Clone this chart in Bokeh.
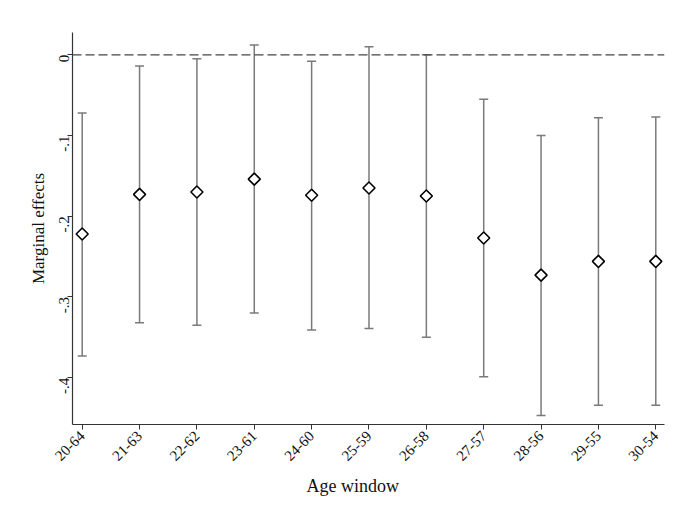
import math
from bokeh.plotting import figure
from bokeh.models import (ColumnDataSource, FixedTicker, CustomJSTickFormatter,
                          Span, Whisker, TeeHead, Range1d, Title)
from bokeh.embed import file_html
from bokeh.resources import INLINE

windows = ["20-64", "21-63", "22-62", "23-61", "24-60", "25-59",
           "26-58", "27-57", "28-56", "29-55", "30-54"]
estimate = [-0.222, -0.173, -0.170, -0.154, -0.174, -0.165,
            -0.175, -0.227, -0.273, -0.256, -0.256]
ci_upper = [-0.072, -0.014, -0.005, 0.012, -0.008, 0.010,
            0.000, -0.055, -0.100, -0.078, -0.077]
ci_lower = [-0.373, -0.332, -0.335, -0.320, -0.341, -0.339,
            -0.350, -0.399, -0.447, -0.434, -0.434]
y_ticks = [0, -0.1, -0.2, -0.3, -0.4]
reference = 0

xs = list(range(len(windows)))
src = ColumnDataSource(dict(x=xs, est=estimate, lo=ci_lower, hi=ci_upper))

FONT = "Liberation Serif"

p = figure(width=690, height=505, output_backend="svg", toolbar_location=None,
           x_range=Range1d(-0.169, 10.152), y_range=Range1d(-0.458, 0.0276),
           min_border_left=72, min_border_right=26, min_border_top=32,
           min_border_bottom=81)
p.outline_line_color = None
p.xgrid.grid_line_color = None
p.ygrid.grid_line_color = None

p.add_layout(Span(location=reference, dimension="width", line_color="#444444",
                  line_width=1.2, line_dash="9 4"))

whisk = Whisker(source=src, base="x", upper="hi", lower="lo",
                line_color="#7a7a7a", line_width=1.5,
                upper_head=TeeHead(size=9, line_color="#7a7a7a", line_width=1.5),
                lower_head=TeeHead(size=9, line_color="#7a7a7a", line_width=1.5))
p.add_layout(whisk)

p.scatter("x", "est", source=src, marker="square", angle=math.pi / 4, size=8.5,
          fill_color="white", line_color="black", line_width=1.6)

# x axis
p.xaxis.ticker = FixedTicker(ticks=xs)
p.xaxis.major_label_overrides = {i: w for i, w in enumerate(windows)}
p.xaxis.major_label_orientation = math.pi / 4
p.xaxis.minor_tick_line_color = None

# x-axis title placed below, slightly left of the plot-area centre as in the original
p.add_layout(Title(text="Age window", align="left", offset=234,
                   text_font=FONT, text_font_size="18px", text_font_style="normal",
                   text_color="#111111", standoff=10), "below")

# y axis
p.yaxis.ticker = FixedTicker(ticks=y_ticks)
p.yaxis.formatter = CustomJSTickFormatter(
    code="return Math.abs(tick) < 1e-9 ? '0' : '-.' + Math.round(-tick * 10);")
p.yaxis.major_label_orientation = math.pi / 2
p.yaxis.axis_label = "Marginal effects"
p.yaxis.minor_tick_line_color = None

for ax in (p.xaxis[0], p.yaxis[0]):
    ax.axis_line_color = "#333333"
    ax.axis_line_width = 1.2
    ax.major_tick_line_color = "#333333"
    ax.major_tick_out = 5
    ax.major_tick_in = 0
    ax.major_label_text_font = FONT
    ax.major_label_text_font_size = "15px"
    ax.major_label_text_color = "#111111"
    ax.axis_label_text_font = FONT
    ax.axis_label_text_font_style = "normal"
    ax.axis_label_text_color = "#111111"

p.yaxis.axis_label_text_font_size = "17px"
p.yaxis.major_label_standoff = 3
p.yaxis.axis_label_standoff = 4
p.xaxis.major_label_standoff = 4

open("out.html", "w").write(file_html(p, INLINE))
